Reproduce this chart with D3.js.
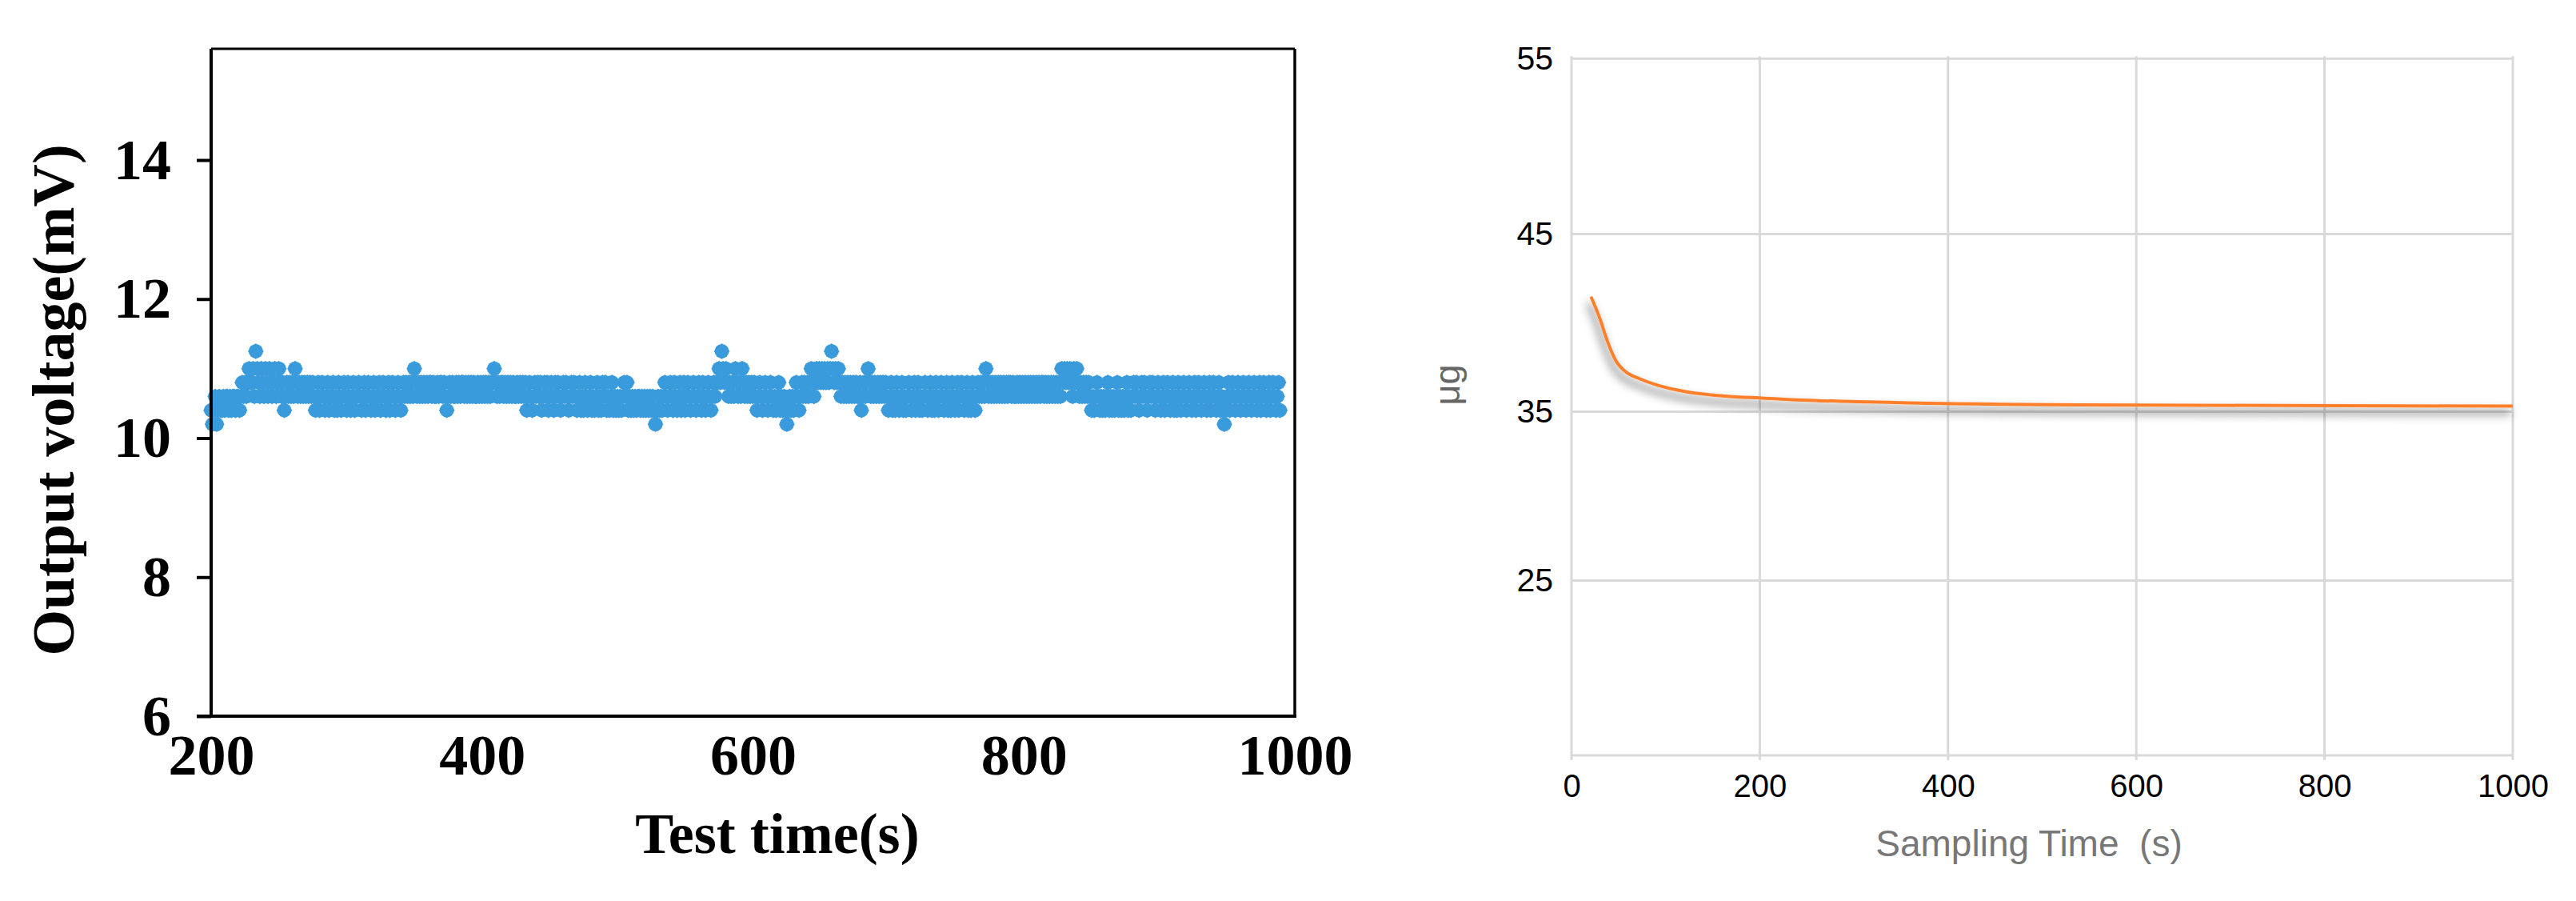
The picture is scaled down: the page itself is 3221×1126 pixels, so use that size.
<!DOCTYPE html>
<html>
<head>
<meta charset="utf-8">
<script src="https://cdn.jsdelivr.net/npm/d3@7"></script>
<style>
  html, body { margin: 0; padding: 0; background: #fff; }
  svg { display: block; }
</style>
</head>
<body>
<div id="chart"></div>
<script>
// ---------------- left panel: output voltage (mV), one reading per second ----------------
const VOLT_START = 200;
const VOLT_STEP  = 1;

const volt200 = [
  10.4,10.2,10.4,10.6,10.2,10.4,10.6,10.4,10.4,10.6, 10.4,10.6,10.6,10.4,10.6,10.4,10.6,10.6,10.4,10.6,
  10.6,10.4,10.6,10.8,10.6,10.8,10.6,10.8,11.0,10.8, 10.8,11.0,10.6,11.25,11.0,10.8,10.6,11.0,10.8,10.6,
  11.0,10.8,10.6,11.0,10.8,10.6,10.8,11.0,10.6,10.8, 11.0,10.8,10.6,10.8,10.4,10.6,10.8,10.6,10.8,10.6,
  10.8,10.6,11.0,10.8,10.6,10.8,10.6,10.8,10.6,10.8, 10.6,10.8,10.6,10.8,10.6,10.8,10.6,10.4,10.6,10.8,
  10.4,10.6,10.8,10.6,10.4,10.6,10.8,10.4,10.6,10.6, 10.8,10.4,10.6,10.4,10.8,10.6,10.4,10.6,10.8,10.6];
const volt300 = [
  10.4,10.8,10.6,10.4,10.6,10.8,10.4,10.6,10.6,10.8, 10.6,10.4,10.6,10.8,10.4,10.6,10.8,10.6,10.4,10.6,
  10.8,10.4,10.6,10.6,10.8,10.4,10.6,10.8,10.6,10.4, 10.6,10.8,10.4,10.6,10.8,10.6,10.4,10.6,10.8,10.6,
  10.4,10.6,10.8,10.6,10.8,10.6,10.8,10.6,10.8,10.6, 11.0,10.8,10.6,10.8,10.6,10.8,10.6,10.8,10.6,10.8,
  10.6,10.8,10.8,10.6,10.8,10.6,10.6,10.8,10.6,10.8, 10.8,10.6,10.8,10.6,10.4,10.6,10.8,10.6,10.8,10.6,
  10.6,10.8,10.6,10.8,10.6,10.8,10.8,10.6,10.8,10.6, 10.8,10.6,10.8,10.6,10.8,10.6,10.6,10.8,10.6,10.8];
const volt400 = [
  10.6,10.8,10.6,10.8,10.6,10.8,10.6,10.8,10.8,11.0, 10.8,10.6,10.8,10.6,10.8,10.8,10.6,10.8,10.6,10.8,
  10.6,10.8,10.6,10.8,10.6,10.6,10.8,10.6,10.8,10.6, 10.8,10.6,10.8,10.4,10.6,10.8,10.6,10.4,10.6,10.8,
  10.6,10.8,10.6,10.8,10.4,10.6,10.8,10.6,10.8,10.4, 10.6,10.8,10.6,10.4,10.8,10.6,10.8,10.6,10.4,10.6,
  10.8,10.6,10.8,10.6,10.4,10.6,10.8,10.6,10.8,10.6, 10.4,10.6,10.8,10.4,10.6,10.4,10.8,10.6,10.4,10.6,
  10.8,10.4,10.6,10.4,10.6,10.8,10.4,10.6,10.4,10.8, 10.6,10.8,10.4,10.6,10.4,10.6,10.8,10.4,10.6,10.4];
const volt500 = [
  10.6,10.4,10.6,10.4,10.6,10.8,10.6,10.8,10.4,10.6, 10.4,10.6,10.4,10.6,10.4,10.6,10.6,10.4,10.6,10.4,
  10.6,10.4,10.6,10.4,10.6,10.4,10.6,10.4,10.2,10.4, 10.6,10.4,10.6,10.4,10.6,10.8,10.6,10.4,10.6,10.8,
  10.6,10.4,10.8,10.6,10.4,10.6,10.8,10.4,10.6,10.8, 10.4,10.6,10.8,10.6,10.4,10.6,10.8,10.6,10.4,10.6,
  10.8,10.6,10.4,10.8,10.6,10.4,10.6,10.8,10.6,10.4, 10.6,10.8,10.6,10.8,10.8,11.0,10.8,11.25,11.0,10.8,
  11.0,10.8,10.6,10.8,10.6,10.8,10.6,11.0,10.8,10.6, 10.8,10.6,11.0,10.8,10.6,10.8,10.6,10.8,10.6,10.8];
const volt600 = [
  10.6,10.8,10.6,10.4,10.6,10.8,10.6,10.4,10.6,10.8, 10.6,10.4,10.6,10.8,10.6,10.4,10.6,10.4,10.6,10.8,
  10.4,10.6,10.4,10.6,10.4,10.2,10.4,10.6,10.4,10.6, 10.4,10.6,10.8,10.6,10.4,10.6,10.8,10.6,10.8,10.6,
  10.8,10.6,10.8,11.0,10.8,10.6,10.8,11.0,10.8,11.0, 10.8,11.0,10.8,11.0,10.8,11.0,10.8,11.0,11.25,11.0,
  10.8,11.0,10.8,11.0,10.8,10.6,10.8,10.6,10.8,10.6, 10.8,10.6,10.8,10.6,10.8,10.6,10.8,10.6,10.6,10.8,
  10.4,10.6,10.8,10.6,10.8,11.0,10.8,10.6,10.8,10.6, 10.8,10.6,10.8,10.6,10.8,10.6,10.8,10.6,10.8,10.6];
const volt700 = [
  10.4,10.6,10.8,10.4,10.6,10.4,10.8,10.6,10.4,10.6, 10.8,10.4,10.6,10.4,10.6,10.8,10.6,10.4,10.6,10.8,
  10.4,10.6,10.8,10.4,10.6,10.4,10.6,10.8,10.6,10.4, 10.6,10.8,10.4,10.6,10.4,10.8,10.6,10.4,10.6,10.8,
  10.6,10.4,10.6,10.8,10.4,10.6,10.4,10.8,10.6,10.4, 10.6,10.8,10.4,10.6,10.8,10.6,10.4,10.6,10.8,10.4,
  10.6,10.4,10.8,10.6,10.4,10.6,10.8,10.6,10.8,10.6, 10.8,10.6,11.0,10.8,10.6,10.8,10.6,10.8,10.6,10.8,
  10.6,10.8,10.6,10.8,10.6,10.8,10.6,10.8,10.6,10.8, 10.8,10.6,10.8,10.6,10.6,10.8,10.6,10.8,10.6,10.8];
const volt800 = [
  10.6,10.8,10.6,10.8,10.6,10.8,10.6,10.8,10.6,10.8, 10.6,10.8,10.6,10.8,10.8,10.6,10.8,10.6,10.8,10.6,
  10.8,10.6,10.8,10.6,10.8,10.6,10.8,10.6,11.0,10.8, 11.0,10.8,11.0,10.8,11.0,10.8,10.6,11.0,10.8,11.0,
  10.8,10.6,10.8,10.6,10.8,10.6,10.8,10.6,10.8,10.6, 10.4,10.6,10.4,10.6,10.8,10.6,10.4,10.6,10.4,10.6,
  10.4,10.6,10.8,10.4,10.6,10.4,10.6,10.4,10.6,10.8, 10.4,10.6,10.4,10.6,10.4,10.6,10.8,10.4,10.6,10.4,
  10.6,10.8,10.6,10.8,10.6,10.4,10.6,10.8,10.6,10.8, 10.6,10.4,10.6,10.8,10.6,10.8,10.6,10.4,10.6,10.8];
const volt900 = [
  10.6,10.4,10.6,10.8,10.4,10.6,10.8,10.6,10.4,10.6, 10.8,10.4,10.6,10.4,10.8,10.6,10.4,10.6,10.8,10.6,
  10.4,10.6,10.8,10.6,10.4,10.6,10.8,10.4,10.6,10.8, 10.6,10.4,10.6,10.8,10.6,10.4,10.6,10.8,10.4,10.6,
  10.8,10.6,10.4,10.6,10.8,10.4,10.6,10.4,10.2,10.4, 10.6,10.8,10.4,10.6,10.8,10.6,10.4,10.6,10.8,10.6,
  10.4,10.6,10.8,10.6,10.4,10.6,10.8,10.6,10.4,10.6, 10.8,10.6,10.4,10.6,10.8,10.4,10.6,10.8,10.6,10.4,
  10.6,10.8,10.4,10.6,10.8,10.6,10.4,10.6,10.8,10.4];

const voltTicksX = [200, 400, 600, 800, 1000];
const voltTicksY = [6, 8, 10, 12, 14];

// ---------------- right panel: mass (μg) against sampling time (s) ----------------
const sampleTime = [20.7, 29.7, 38.2, 46.7, 58, 72.2, 92, 120.3, 162.8, 205.2, 233.5, 314.8, 540, 1000];
const sampleMass = [41.48, 40.31, 38.96, 37.91, 37.23, 36.86, 36.48, 36.14, 35.88, 35.76, 35.68, 35.55, 35.38, 35.31];

const massTicksX = [0, 200, 400, 600, 800, 1000];
const massTicksY = [25, 35, 45, 55];
const massGridY  = [15, 25, 35, 45, 55];

const BLUE   = "#3a9bdc";
const ORANGE = "#ff7f2a";
const GRID   = "#d9d9d9";

const WIDTH  = 3221;
const HEIGHT = 1126;

const svg = d3.select("#chart").append("svg")
    .attr("width", WIDTH)
    .attr("height", HEIGHT)
    .style("background", "#fff");

// drop shadow under the orange curve
const defs = svg.append("defs");
const shadow = defs.append("filter")
    .attr("id", "lineShadow")
    .attr("x", "-5%").attr("y", "-20%")
    .attr("width", "110%").attr("height", "160%");
shadow.append("feGaussianBlur").attr("in", "SourceAlpha").attr("stdDeviation", 6);
shadow.append("feOffset").attr("dx", -3).attr("dy", 8).attr("result", "blur");
shadow.append("feFlood").attr("flood-color", "#000").attr("flood-opacity", 0.7);
shadow.append("feComposite").attr("in2", "blur").attr("operator", "in");
const merge = shadow.append("feMerge");
merge.append("feMergeNode");
merge.append("feMergeNode").attr("in", "SourceGraphic");

/* ====================== left panel ====================== */
(function drawVoltage() {
    const SERIF = "'Liberation Serif', 'Times New Roman', serif";

    const x = d3.scaleLinear().domain([200, 1000]).range([264, 1619]);
    const y = d3.scaleLinear().domain([6, 15.6]).range([895, 61]);

    const g = svg.append("g").attr("class", "voltage");

    const readings = [volt200, volt300, volt400, volt500, volt600, volt700, volt800, volt900]
        .flat()
        .map((v, i) => ({ t: VOLT_START + i * VOLT_STEP, v: v }));

    // markers: blurry excel diamonds -> diamond + round body
    const diamond = d3.symbol().type(d3.symbolSquare).size(200);
    const body    = d3.symbol().type(d3.symbolCircle).size(Math.PI * 9 * 9);
    const marks = g.append("g").selectAll("g")
        .data(readings)
        .enter()
        .append("g")
        .attr("transform", d => `translate(${x(d.t)},${y(d.v)})`);
    marks.append("path")
        .attr("d", diamond)
        .attr("transform", "rotate(45)")
        .attr("fill", BLUE);
    marks.append("path")
        .attr("d", body)
        .attr("fill", BLUE);

    // y-axis
    const yAxis = g.append("g")
        .attr("transform", `translate(${x(200)},0)`)
        .call(d3.axisLeft(y).tickValues(voltTicksY).tickSize(18).tickPadding(32).tickFormat(d3.format("d")));
    yAxis.select(".domain").remove();
    yAxis.selectAll("line").attr("stroke", "#000").attr("stroke-width", 4);
    yAxis.selectAll("text")
        .style("font-family", SERIF)
        .style("font-weight", "bold")
        .style("font-size", "72px")
        .attr("fill", "#000");

    // x-axis labels
    const xAxis = g.append("g")
        .attr("transform", `translate(0,${y(6)})`)
        .call(d3.axisBottom(x).tickValues(voltTicksX).tickSize(0).tickPadding(22).tickFormat(d3.format("d")));
    xAxis.select(".domain").remove();
    xAxis.selectAll("text")
        .style("font-family", SERIF)
        .style("font-weight", "bold")
        .style("font-size", "72px")
        .attr("fill", "#000");

    // frame
    g.append("line")
        .attr("x1", x(200)).attr("y1", y(15.6))
        .attr("x2", x(200)).attr("y2", y(6) + 2)
        .attr("stroke", "#000").attr("stroke-width", 4);
    g.append("line")
        .attr("x1", x(200) - 18).attr("y1", y(6))
        .attr("x2", x(1000) + 2).attr("y2", y(6))
        .attr("stroke", "#000").attr("stroke-width", 4);
    g.append("line")
        .attr("x1", x(1000)).attr("y1", y(15.6))
        .attr("x2", x(1000)).attr("y2", y(6))
        .attr("stroke", "#000").attr("stroke-width", 3.5);
    g.append("line")
        .attr("x1", x(200)).attr("y1", y(15.6))
        .attr("x2", x(1000)).attr("y2", y(15.6))
        .attr("stroke", "#000").attr("stroke-width", 3);

    // axis titles
    g.append("text")
        .attr("transform", "translate(92,500) rotate(-90)")
        .attr("text-anchor", "middle")
        .style("font-family", SERIF)
        .style("font-weight", "bold")
        .style("font-size", "74px")
        .text("Output voltage(mV)");

    g.append("text")
        .attr("x", 972)
        .attr("y", 1066)
        .attr("text-anchor", "middle")
        .style("font-family", SERIF)
        .style("font-weight", "bold")
        .style("font-size", "72px")
        .text("Test time(s)");
})();

/* ====================== right panel ====================== */
(function drawMass() {
    const SANS = "'Liberation Sans', Arial, sans-serif";

    const x = d3.scaleLinear().domain([0, 1000]).range([1965, 3142]);
    // polylinear to follow the uneven grid spacing of the original
    const y = d3.scaleLinear().domain([15, 25, 35, 45, 55]).range([944, 725.5, 514.5, 292.6, 73.3]);

    const g = svg.append("g").attr("class", "mass");

    // grid
    g.append("g").selectAll("line")
        .data(massGridY)
        .enter()
        .append("line")
        .attr("x1", x(0)).attr("x2", x(1000))
        .attr("y1", d => y(d)).attr("y2", d => y(d))
        .attr("stroke", GRID)
        .attr("stroke-width", 3);
    g.append("g").selectAll("line")
        .data(massTicksX)
        .enter()
        .append("line")
        .attr("x1", d => x(d)).attr("x2", d => x(d))
        .attr("y1", y(55) - 3).attr("y2", y(15) + 6)
        .attr("stroke", GRID)
        .attr("stroke-width", 3);

    // curve
    const pts = sampleTime.map((t, i) => ({ t: t, m: sampleMass[i] }));
    const line = d3.line()
        .x(d => x(d.t))
        .y(d => y(d.m))
        .curve(d3.curveMonotoneX);
    g.append("path")
        .datum(pts)
        .attr("d", line)
        .attr("fill", "none")
        .attr("stroke", ORANGE)
        .attr("stroke-width", 4)
        .attr("filter", "url(#lineShadow)");

    // y labels
    const yAxis = g.append("g")
        .attr("transform", `translate(${x(0)},0)`)
        .call(d3.axisLeft(y).tickValues(massTicksY).tickSize(0).tickPadding(23).tickFormat(d3.format("d")));
    yAxis.select(".domain").remove();
    yAxis.selectAll("text")
        .style("font-family", SANS)
        .style("font-size", "41px")
        .attr("fill", "#000");

    // x labels
    const xAxis = g.append("g")
        .attr("transform", `translate(0,${y(15)})`)
        .call(d3.axisBottom(x).tickValues(massTicksX).tickSize(0).tickPadding(24).tickFormat(d3.format("d")));
    xAxis.select(".domain").remove();
    xAxis.selectAll("text")
        .style("font-family", SANS)
        .style("font-size", "40px")
        .attr("fill", "#000");

    // titles
    g.append("text")
        .attr("transform", "translate(1825,481) rotate(-90)")
        .attr("text-anchor", "middle")
        .style("font-family", SANS)
        .style("font-size", "45px")
        .attr("fill", "#666")
        .text("μg");

    g.append("text")
        .attr("x", 2537)
        .attr("y", 1070)
        .attr("text-anchor", "middle")
        .attr("xml:space", "preserve")
        .style("white-space", "pre")
        .style("font-family", SANS)
        .style("font-size", "46px")
        .attr("fill", "#777")
        .text("Sampling Time  (s)");
})();
</script>
</body>
</html>
